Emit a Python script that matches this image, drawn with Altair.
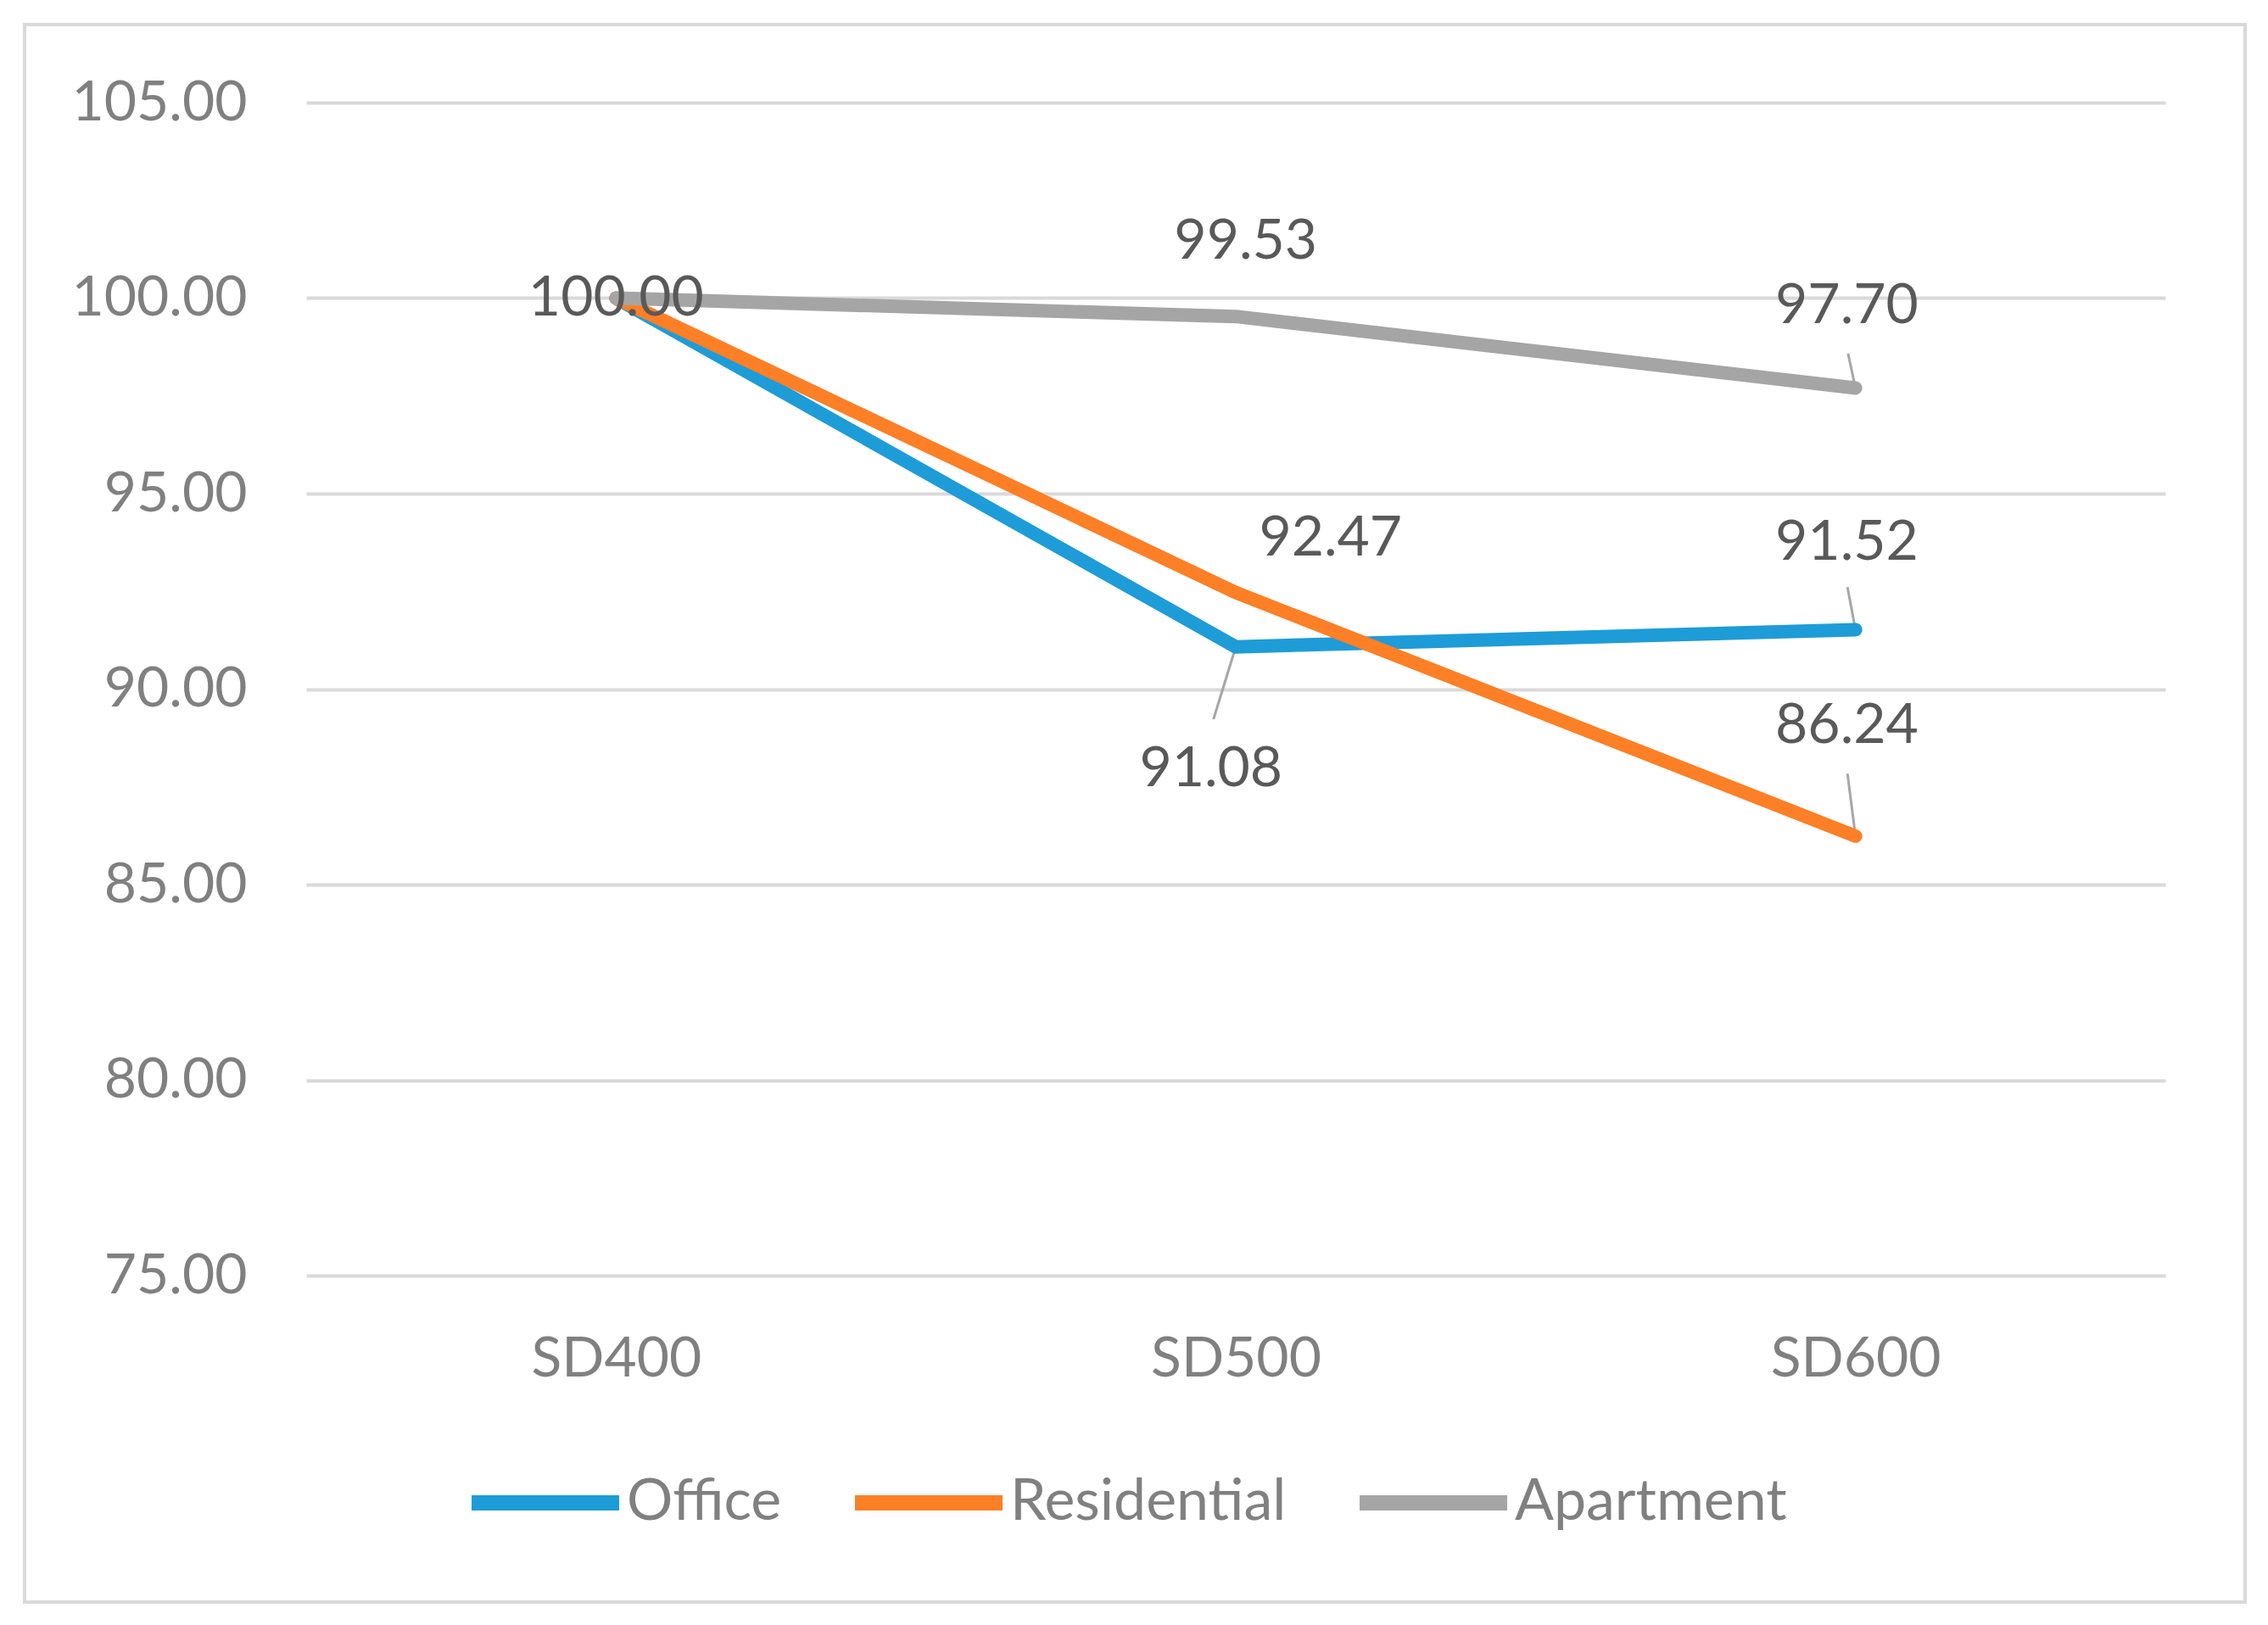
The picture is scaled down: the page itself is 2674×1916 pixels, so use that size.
import json
import altair as alt
import pandas as pd

categories = ["SD400", "SD500", "SD600"]
series_names = ["Office", "Residential", "Apartment"]
office = [100.00, 91.08, 91.52]
residential = [100.00, 92.47, 86.24]
apartment = [100.00, 99.53, 97.70]
colors = ["#1E9CD8", "#FD7F26", "#A5A5A5"]
y_ticks = [75, 80, 85, 90, 95, 100, 105]

# data labels: (series, category index, x offset in category units, y offset in value units)
label_series = ["Office", "Apartment", "Residential", "Office", "Apartment", "Office", "Residential"]
label_idx = [0, 1, 1, 1, 2, 2, 2]
label_dx = [0.0, 0.016, 0.153, -0.040, -0.014, -0.014, -0.014]
label_dy = [0.0, 1.91, 1.37, -3.12, 2.10, 2.23, 2.82]

# leader lines: (series, category index, start offset x, start offset y)
leader_series = ["Apartment", "Office", "Residential", "Office"]
leader_idx = [2, 2, 2, 1]
leader_dx = [-0.012, -0.013, -0.013, -0.036]
leader_dy = [0.88, 1.09, 1.60, -1.85]

values = {"Office": office, "Residential": residential, "Apartment": apartment}

rows = []
for s in series_names:
    for i, c in enumerate(categories):
        rows.append({"series": s, "idx": i, "cat": c, "value": values[s][i]})
df = pd.DataFrame(rows)

lab = pd.DataFrame({
    "series": label_series,
    "idx": label_idx,
    "dx": label_dx,
    "dy": label_dy,
})
lab["value"] = [values[s][i] for s, i in zip(label_series, label_idx)]
lab["lx"] = lab["idx"] + lab["dx"]
lab["ly"] = lab["value"] + lab["dy"]
lab["text"] = lab["value"].map(lambda v: f"{v:.2f}")

lead = pd.DataFrame({
    "series": leader_series,
    "idx": leader_idx,
    "dx": leader_dx,
    "dy": leader_dy,
})
lead["value"] = [values[s][i] for s, i in zip(leader_series, leader_idx)]
lead["sx"] = lead["idx"] + lead["dx"]
lead["sy"] = lead["value"] + lead["dy"]

W, H = 2192, 1383
FONT = "Lato"

xscale = alt.Scale(domain=[-0.5, 2.5], nice=False, zero=False)
yscale = alt.Scale(domain=[75, 105], nice=False, zero=False)

lines = alt.Chart(df).mark_line(strokeWidth=16, strokeCap="round", strokeJoin="round").encode(
    x=alt.X("idx:Q", scale=xscale,
            axis=alt.Axis(values=[0, 1, 2], labelExpr=f"{json.dumps(categories)}[datum.value]",
                          grid=False, ticks=False, tickSize=0, domain=False, title=None,
                          labelFont=FONT, labelFontSize=66, labelColor="#808080",
                          labelPadding=66, labelBaseline="top", labelLimit=1000)),
    y=alt.Y("value:Q", scale=yscale,
            axis=alt.Axis(values=y_ticks, format=".2f", grid=True, gridColor="#D9D9D9",
                          gridWidth=4, ticks=False, tickSize=0, domain=False, title=None,
                          labelFont=FONT, labelFontSize=66, labelColor="#808080",
                          labelPadding=70, labelLimit=1000)),
    color=alt.Color("series:N", sort=series_names,
                    scale=alt.Scale(domain=series_names, range=colors),
                    legend=alt.Legend(orient="none", legendX=186, legendY=1555,
                                      direction="horizontal", title=None,
                                      symbolType="stroke", symbolSize=30276,
                                      symbolStrokeWidth=18, labelFont=FONT,
                                      labelFontSize=68, labelColor="#808080",
                                      labelOffset=0, columnPadding=50,
                                      labelLimit=1000)),
    detail="series:N",
)

leaders = alt.Chart(lead).mark_rule(color="#A6A6A6", strokeWidth=3).encode(
    x=alt.X("sx:Q", scale=xscale),
    x2="idx:Q",
    y=alt.Y("sy:Q", scale=yscale),
    y2="value:Q",
)

labels = alt.Chart(lab).mark_text(font=FONT, fontSize=66, color="#595959",
                                  align="center", baseline="middle").encode(
    x=alt.X("lx:Q", scale=xscale),
    y=alt.Y("ly:Q", scale=yscale),
    text="text:N",
)

frame = alt.Chart(pd.DataFrame({"k": [0]})).mark_rect(
    fill=None, stroke="#D9D9D9", strokeWidth=4
).encode(
    x=alt.value(-332), x2=alt.value(W + 94),
    y=alt.value(-92), y2=alt.value(1768),
)

chart = alt.layer(frame, leaders, lines, labels).properties(
    width=W, height=H,
    autosize=alt.AutoSizeParams(type="none"),
    padding={"left": 353, "top": 113, "right": 113, "bottom": 395},
    background="white",
).configure_view(stroke=None)

chart.save("out.html", embed_options={"renderer": "svg", "actions": False})
